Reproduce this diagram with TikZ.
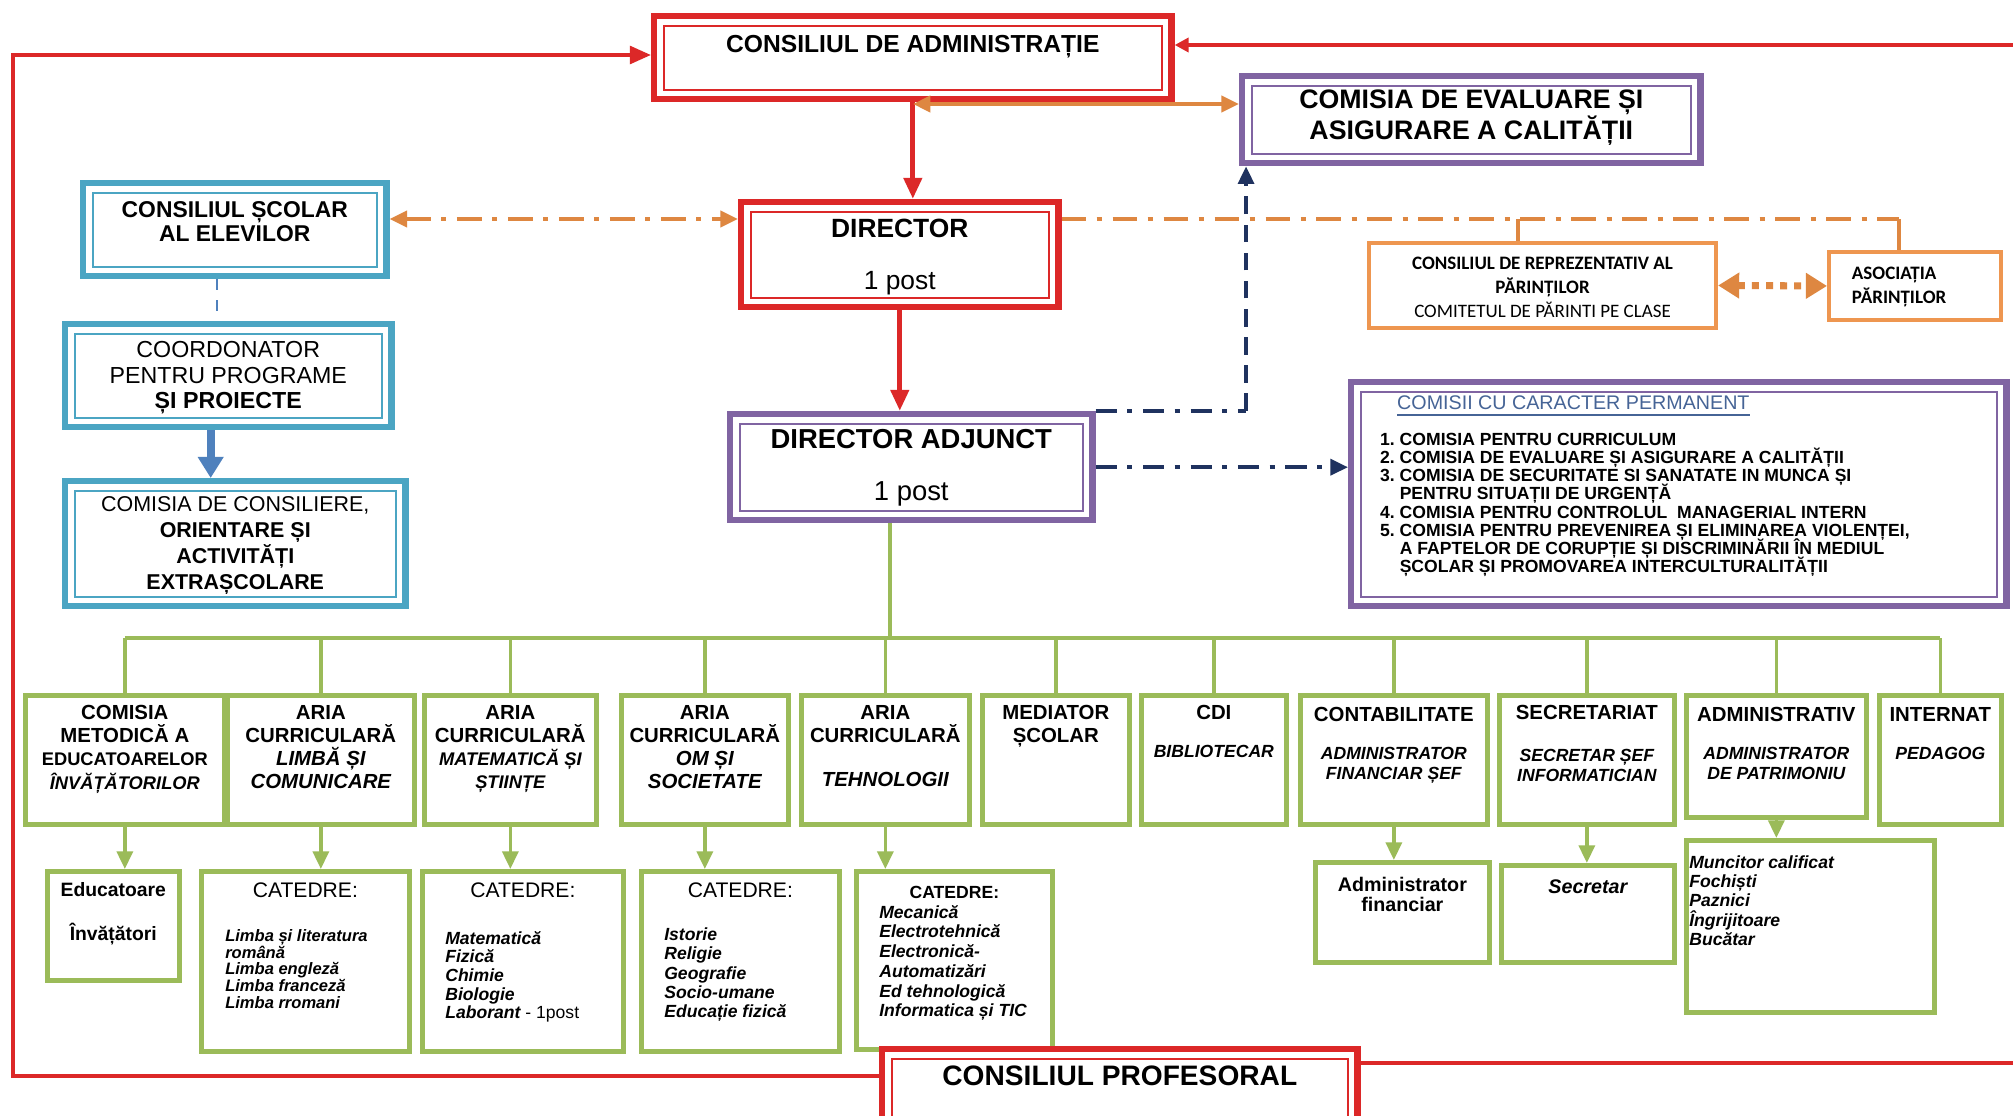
\documentclass[tikz,border=0pt]{standalone}
\usepackage{fontspec}
\setmainfont{Liberation Sans}
\newfontfamily\calfont{Carlito}
\usetikzlibrary{arrows.meta}
\definecolor{cared}{RGB}{220,40,40}
\definecolor{capurple}{RGB}{128,100,162}
\definecolor{cateal}{RGB}{75,165,195}
\definecolor{cagreen}{RGB}{155,187,89}
\definecolor{caorange}{RGB}{238,150,80}
\definecolor{cadorange}{RGB}{222,135,65}
\definecolor{canavy}{RGB}{31,50,95}
\definecolor{cablue}{RGB}{79,129,189}
\definecolor{catitle}{RGB}{70,100,150}
\newcommand{\fs}[2]{\fontsize{#1}{#2}\selectfont}
\newcommand{\boxtext}[4]{\parbox[c][#2][t]{#1}{\lineskiplimit=-10pt\centering\vspace*{#3}#4\par}}
\newcommand{\tophead}{\fs{5.8}{6.6}\bfseries}
\newcommand{\topsub}{\fs{5}{5.8}\bfseries\itshape}
\newcommand{\contline}{\leavevmode\phantom{5.\ }}
\begin{document}
\begin{tikzpicture}[x=0.01cm, y=-0.01cm, >={Triangle[length=5pt,width=4.5pt]},
  dframe/.style={draw=#1, line width=1.8pt, fill=white, inner sep=0pt, anchor=north west,
    path picture={\draw[#1, line width=0.5pt] ([shift={(2.7pt,-2.7pt)}]path picture bounding box.north west) rectangle ([shift={(-2.7pt,2.7pt)}]path picture bounding box.south east);}},
  gbox/.style={draw=cagreen, line width=1.3pt, fill=white, inner sep=0pt, anchor=north west},
  obox/.style={draw=caorange, line width=1.1pt, fill=white, inner sep=0pt, anchor=north west},
  redline/.style={draw=cared, line width=1.1pt},
  redarrow/.style={draw=cared, line width=1.5pt, ->, >={Triangle[length=6pt,width=5pt]}},
  orangedash/.style={draw=cadorange, line width=1.4pt, dash pattern=on 7pt off 3pt on 1.5pt off 3pt},
  orangeline/.style={draw=cadorange, line width=1pt},
  orangedot/.style={draw=cadorange, line width=2pt, dash pattern=on 2pt off 2pt, >={Triangle[length=6pt,width=7pt]}},
  navydash/.style={draw=canavy, line width=1.1pt, dash pattern=on 6pt off 3pt on 1.5pt off 3pt},
  navylong/.style={draw=canavy, line width=1.1pt, dash pattern=on 5pt off 3pt},
  greenline/.style={draw=cagreen, line width=1pt},
  greenarrow/.style={draw=cagreen, line width=1pt, ->},
  bluedash/.style={draw=cablue, line width=0.5pt, dashed},
  bluearrow/.style={draw=cablue, line width=2.2pt, ->, >={Triangle[length=6pt,width=7pt]}}]
\useasboundingbox (0,0) rectangle (2013,1115);
\fill[white] (0,0) rectangle (2013,1115);
\clip (0,0) rectangle (2013,1115);

\node[dframe=cared] (ca) at (651,13) {\boxtext{5.17cm}{0.83cm}{0.19cm}{\fs{7}{8.4}\bfseries CONSILIUL DE ADMINISTRAȚIE}};
\node[dframe=capurple] (ceac) at (1239,73) {\boxtext{4.58cm}{0.87cm}{0.14cm}{\fs{7.6}{8.8}\bfseries COMISIA DE EVALUARE ȘI\\ASIGURARE A CALITĂȚII}};
\node[dframe=cared] (dir) at (738,199) {\boxtext{3.17cm}{1.05cm}{0.17cm}{\fs{7.5}{9}\bfseries DIRECTOR\\[5.8pt]\mdseries 1 post}};
\node[dframe=capurple] (da) at (727,411) {\boxtext{3.62cm}{1.06cm}{0.15cm}{\fs{7.8}{9}\bfseries DIRECTOR ADJUNCT\\[5.8pt]\mdseries 1 post}};
\node[dframe=cateal] (cse) at (80,180) {\boxtext{3.03cm}{0.93cm}{0.18cm}{\fs{6.5}{6.8}\bfseries CONSILIUL ȘCOLAR\\AL ELEVILOR}};
\node[dframe=cateal] (coord) at (62,321) {\boxtext{3.26cm}{1.03cm}{0.17cm}{\fs{6.6}{7.3}COORDONATOR\\PENTRU PROGRAME\\\textbf{ȘI PROIECTE}}};
\node[dframe=cateal] (ccons) at (62,478) {\boxtext{3.40cm}{1.25cm}{0.15cm}{\fs{6.1}{7.4}COMISIA DE CONSILIERE,\\\textbf{ORIENTARE ȘI}\\\textbf{ACTIVITĂȚI}\\\textbf{EXTRAȘCOLARE}}};
\node[dframe=capurple] (comisii) at (1348,379) {\parbox[c][2.24cm][t]{6.55cm}{\lineskiplimit=-10pt\raggedright\vspace*{0.14cm}\hspace*{0.46cm}{\color{catitle}\fs{5.6}{6}\underline{COMISII CU CARACTER PERMANENT}}\par\vspace{5pt}\leftskip=0.29cm\fs{5}{5.15}\bfseries
1.\ COMISIA PENTRU CURRICULUM\\
2.\ COMISIA DE EVALUARE ȘI ASIGURARE A CALITĂȚII\\
3.\ COMISIA DE SECURITATE SI SANATATE IN MUNCA ȘI\\
\contline PENTRU SITUAȚII DE URGENȚĂ\\
4.\ COMISIA PENTRU CONTROLUL\ \ MANAGERIAL INTERN\\
5.\ COMISIA PENTRU PREVENIREA ȘI ELIMINAREA VIOLENȚEI,\\
\contline A FAPTELOR DE CORUPȚIE ȘI DISCRIMINĂRII ÎN MEDIUL\\
\contline ȘCOLAR ȘI PROMOVAREA INTERCULTURALITĂȚII\par}};
\node[obox] (crep) at (1367,241) {\boxtext{3.47cm}{0.85cm}{0.14cm}{\calfont\fs{5.4}{6.8}\textbf{CONSILIUL DE REPREZENTATIV AL}\\\textbf{PĂRINȚILOR}\\COMITETUL DE PĂRINTI PE CLASE}};
\node[obox] (asoc) at (1827,250) {\parbox[c][0.68cm][t]{1.72cm}{\raggedright\vspace*{0.15cm}\leftskip=0.23cm\calfont\fs{5.4}{6.8}\bfseries ASOCIAȚIA\\PĂRINȚILOR\par}};

\node[gbox] (cm) at (23,693) {\boxtext{1.99cm}{1.29cm}{0.1cm}{\tophead COMISIA\\METODICĂ A\\{\fs{5.2}{6.6}EDUCATOARELOR}\\{\fs{5.2}{6.6}\itshape ÎNVĂȚĂTORILOR}}};
\node[gbox] (al) at (225,693) {\boxtext{1.87cm}{1.29cm}{0.1cm}{\tophead ARIA\\CURRICULARĂ\\{\itshape LIMBĂ ȘI\\COMUNICARE}}};
\node[gbox] (am) at (422,693) {\boxtext{1.72cm}{1.29cm}{0.1cm}{\tophead ARIA\\CURRICULARĂ\\{\fs{5.2}{6.6}\itshape MATEMATICĂ ȘI\\ȘTIINȚE}}};
\node[gbox] (ao) at (619,693) {\boxtext{1.67cm}{1.29cm}{0.1cm}{\tophead ARIA\\CURRICULARĂ\\{\itshape OM ȘI\\SOCIETATE}}};
\node[gbox] (at) at (799,693) {\boxtext{1.68cm}{1.29cm}{0.1cm}{\tophead ARIA\\CURRICULARĂ\\[6pt]{\itshape TEHNOLOGII}}};
\node[gbox] (ms) at (980,693) {\boxtext{1.47cm}{1.29cm}{0.1cm}{\tophead MEDIATOR\\ȘCOLAR}};
\node[gbox] (cdi) at (1139,693) {\boxtext{1.45cm}{1.29cm}{0.1cm}{\tophead CDI\\[5pt]\topsub BIBLIOTECAR}};
\node[gbox] (con) at (1298,693) {\boxtext{1.87cm}{1.29cm}{0.12cm}{\tophead CONTABILITATE\\[5pt]\topsub ADMINISTRATOR\\FINANCIAR ȘEF}};
\node[gbox] (sec) at (1497,693) {\boxtext{1.75cm}{1.29cm}{0.1cm}{\tophead SECRETARIAT\\[6pt]\topsub SECRETAR ȘEF\\INFORMATICIAN}};
\node[gbox] (adm) at (1684,693) {\boxtext{1.80cm}{1.22cm}{0.12cm}{\tophead ADMINISTRATIV\\[5pt]\topsub ADMINISTRATOR\\DE PATRIMONIU}};
\node[gbox] (int) at (1877,693) {\boxtext{1.22cm}{1.29cm}{0.12cm}{\tophead INTERNAT\\[5pt]\topsub PEDAGOG}};

\node[gbox] (edu) at (45,869) {\boxtext{1.32cm}{1.09cm}{0.11cm}{\fs{5.5}{6.5}\bfseries Educatoare\\[6pt]Învățători}};
\node[gbox] (catl) at (199,869) {\boxtext{2.08cm}{1.80cm}{0.115cm}{{\fs{6}{7}CATEDRE:\par}\vspace{7.6pt}\raggedright\leftskip=0.24cm\fs{4.7}{4.8}\bfseries\itshape Limba și literatura\\română\\Limba engleză\\Limba franceză\\Limba rromani}};
\node[gbox] (catm) at (420,869) {\boxtext{2.01cm}{1.80cm}{0.115cm}{{\fs{6}{7}CATEDRE:\par}\vspace{8pt}\raggedright\leftskip=0.23cm\fs{5}{5.3}\bfseries\itshape Matematică\\Fizică\\Chimie\\Biologie\\Laborant {\mdseries\upshape - 1post}}};
\node[gbox] (cato) at (639,869) {\boxtext{1.98cm}{1.80cm}{0.115cm}{{\fs{6}{7}CATEDRE:\par}\vspace{6.7pt}\raggedright\leftskip=0.23cm\fs{5}{5.5}\bfseries\itshape Istorie\\Religie\\Geografie\\Socio-umane\\Educație fizică}};
\node[gbox] (catt) at (854,869) {\boxtext{1.96cm}{1.78cm}{0.15cm}{{\fs{5}{5.6}\bfseries CATEDRE:\par}\raggedright\leftskip=0.23cm\fs{5}{5.6}\bfseries\itshape Mecanică\\Electrotehnică\\Electronică-\\Automatizări\\Ed tehnologică\\Informatica și TIC}};
\node[gbox] (adf) at (1313,860) {\boxtext{1.74cm}{1.00cm}{0.15cm}{\fs{5.6}{5.8}\bfseries Administrator\\financiar}};
\node[gbox] (secr) at (1499,863) {\boxtext{1.73cm}{0.97cm}{0.14cm}{\fs{5.6}{5.8}\bfseries\itshape Secretar}};
\node[gbox] (munc) at (1684,838) {\parbox[c][1.72cm][t]{2.48cm}{\lineskiplimit=-10pt\raggedright\vspace*{0.15cm}\leftskip=0.03cm\fs{5}{5.5}\bfseries\itshape Muncitor calificat\\Fochiști\\Paznici\\Îngrijitoare\\Bucătar\par}};

\node[dframe=cared] (cp) at (879,1046) {\boxtext{4.75cm}{0.90cm}{0.17cm}{\fs{8}{9.6}\bfseries CONSILIUL PROFESORAL}};

\coordinate (lt) at (13,55);
\coordinate (lb) at (13,1076);
\coordinate (rt) at (2013,45);
\coordinate (rb) at (2013,1063);
\coordinate (caq) at (ca.south |- 0,104);
\coordinate (yo) at (0,219);
\coordinate (bus) at (0,638);
\coordinate (trunk) at ([xshift=-6pt]da.south);
\coordinate (cq1) at ([xshift=-5pt]cse.south);
\coordinate (cq2) at ([xshift=-5pt]coord.south);
\coordinate (cq3) at ([xshift=-7pt]crep.north);
\coordinate (cq4) at ([xshift=-4.5pt]asoc.north);
\coordinate (cq5) at ([xshift=2pt]ceac.south west);
\coordinate (nv) at (cq5 |- da.north east);

\draw[redline,->,>={Triangle[length=6pt,width=5pt]}] (cp.west |- lb) -- (lb) -- (lt) -- (ca.west |- lt);
\draw[redline,->,>={Triangle[length=4pt,width=4pt]}] (rt) -- (ca.east |- rt);
\draw[redline] (cp.east |- rb) -- (rb);
\draw[redarrow] (ca.south) -- (ca.south |- dir.north);
\draw[redarrow] (dir.south) -- (dir.south |- da.north);
\draw[orangeline,<->,line width=1.3pt] (caq) -- (caq -| ceac.west);
\draw[orangedash,<->] (cse.east |- yo) -- (dir.west |- yo);
\draw[orangedash] (dir.east |- yo) -- (cq4 |- yo);
\draw[orangeline] (cq4 |- yo) -- (cq4);
\draw[orangeline] (cq3 |- yo) -- (cq3);
\draw[orangedot,<->] (crep.east) -- (asoc.west);
\draw[navydash] (da.north east) -- (nv);
\draw[navylong,->] (nv) -- (cq5);
\draw[navydash,->] (da.east) -- (da.east -| comisii.west);
\draw[bluedash] (cq1) -- (cq1 |- coord.north);
\draw[bluearrow] (cq2) -- (cq2 |- ccons.north);
\draw[greenline] (trunk) -- (trunk |- bus);
\draw[greenline] (cm.north |- bus) -- (int.north |- bus);
\foreach \b in {cm,al,am,ao,at,ms,cdi,con,sec,adm,int}
  \draw[greenline] (\b.north |- bus) -- (\b.north);
\foreach \a/\b in {cm/edu,al/catl,am/catm,ao/cato,at/catt,con/adf,sec/secr,adm/munc}
  \draw[greenarrow] (\a.south) -- (\a.south |- \b.north);
\end{tikzpicture}
\end{document}
